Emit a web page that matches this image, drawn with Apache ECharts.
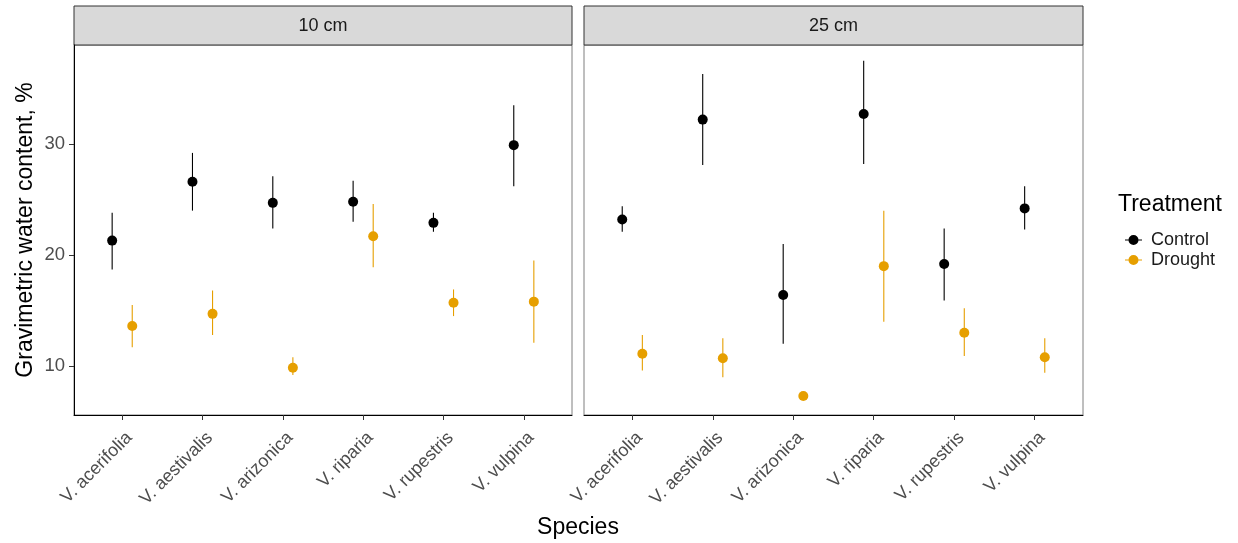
<!DOCTYPE html>
<html>
<head>
<meta charset="utf-8">
<script src="https://cdn.jsdelivr.net/npm/echarts@6/dist/echarts.min.js"></script>
<style>html,body{margin:0;padding:0;background:#fff;}#c{width:1238px;height:543px;}</style>
</head>
<body>
<div id="c"></div>
<script>
const species = ['V. acerifolia','V. aestivalis','V. arizonica','V. riparia','V. rupestris','V. vulpina'];
const panels = ['10 cm','25 cm'];
const treatments = ['Control','Drought'];
const yTicks = [10,20,30];

const ctrl10Mean = [21.3, 26.6, 24.7, 24.8, 22.9, 29.9];
const ctrl10Lo   = [18.7, 24.0, 22.4, 23.0, 22.1, 26.2];
const ctrl10Hi   = [23.8, 29.2, 27.1, 26.7, 23.8, 33.5];
const drt10Mean  = [13.6, 14.7, 9.85, 21.7, 15.7, 15.8];
const drt10Lo    = [11.7, 12.8, 9.2, 18.9, 14.5, 12.1];
const drt10Hi    = [15.5, 16.8, 10.8, 24.6, 16.9, 19.5];
const ctrl25Mean = [23.2, 32.2, 16.4, 32.7, 19.2, 24.2];
const ctrl25Lo   = [22.1, 28.1, 12.0, 28.2, 15.9, 22.3];
const ctrl25Hi   = [24.4, 36.3, 21.0, 37.5, 22.4, 26.2];
const drt25Mean  = [11.1, 10.7, 7.3, 19.0, 13.0, 10.8];
const drt25Lo    = [9.6, 9.0, 7.1, 14.0, 10.9, 9.4];
const drt25Hi    = [12.8, 12.5, 7.5, 24.0, 15.2, 12.5];

const colors = {Control:'#000000', Drought:'#E69F00'};
const dodge = {Control:-0.125, Drought:0.125};
const dataSets = [
  {panel:0, t:'Control', mean:ctrl10Mean, lo:ctrl10Lo, hi:ctrl10Hi},
  {panel:0, t:'Drought', mean:drt10Mean, lo:drt10Lo, hi:drt10Hi},
  {panel:1, t:'Control', mean:ctrl25Mean, lo:ctrl25Lo, hi:ctrl25Hi},
  {panel:1, t:'Drought', mean:drt25Mean, lo:drt25Lo, hi:drt25Hi}
];

const FONT = 'Liberation Sans, Arial, sans-serif';
const catTicks = species.map((s,k)=>k+1);
const labelShift = 0.09;
const grids = [
  {left:74, top:45, width:498, height:370, show:true, borderColor:'#7f7f7f', borderWidth:1},
  {left:584, top:45, width:499, height:370, show:true, borderColor:'#7f7f7f', borderWidth:1}
];
const xAxes = grids.map((g,i)=>({
  type:'value', gridIndex:i, min:0.4, max:6.6,
  splitLine:{show:false},
  axisLine:{show:true, lineStyle:{color:'#000', width:1}},
  axisTick:{show:true, length:5, lineStyle:{color:'#333', width:1}, customValues:catTicks},
  axisLabel:{show:true, rotate:45, color:'#4D4D4D', fontSize:18, fontFamily:FONT, margin:20,
    customValues:catTicks.map(v=>v+labelShift), formatter:v=>species[Math.round(v)-1] || ''}
}));
const yAxes = grids.map((g,i)=>({
  type:'value', gridIndex:i, min:5.59, max:38.92,
  splitLine:{show:false},
  axisLine:{show:i===0, lineStyle:{color:'#000', width:1}},
  axisTick:{show:i===0, length:5, lineStyle:{color:'#333', width:1}, customValues:yTicks},
  axisLabel:{show:i===0, color:'#4D4D4D', fontSize:18.5, fontFamily:FONT, margin:9, customValues:yTicks},
  name: i===0 ? 'Gravimetric water content, %' : '',
  nameLocation:'middle', nameGap:37,
  nameTextStyle:{color:'#000', fontSize:23, fontFamily:FONT}
}));

const series = [];
dataSets.forEach(ds=>{
  const off = dodge[ds.t];
  series.push({
    type:'custom', name:ds.t, xAxisIndex:ds.panel, yAxisIndex:ds.panel,
    data: species.map((s,k)=>[k+1+off, ds.lo[k], ds.hi[k]]),
    encode:{x:0, y:[1,2]},
    silent:true,
    itemStyle:{color:colors[ds.t]},
    renderItem:(params, api)=>{
      const p1 = api.coord([api.value(0), api.value(1)]);
      const p2 = api.coord([api.value(0), api.value(2)]);
      return {type:'line', shape:{x1:p1[0], y1:p1[1], x2:p2[0], y2:p2[1]},
        style:{stroke:colors[ds.t], lineWidth:1.1}};
    },
    z:2
  });
  series.push({
    type:'scatter', name:ds.t, xAxisIndex:ds.panel, yAxisIndex:ds.panel,
    data: species.map((s,k)=>[k+1+off, ds.mean[k]]),
    symbol:'circle', symbolSize:10,
    itemStyle:{color:colors[ds.t], opacity:1},
    z:3
  });
});

const graphics = [];
grids.forEach((g,i)=>{
  graphics.push({type:'rect', shape:{x:g.left, y:6, width:g.width, height:39},
    style:{fill:'#D9D9D9', stroke:'#333', lineWidth:1}});
  graphics.push({type:'text', x:g.left+g.width/2, y:26,
    style:{text:panels[i], fill:'#1A1A1A', font:'18px '+FONT, textAlign:'center', textVerticalAlign:'middle'}});
});
graphics.push({type:'text', x:578, y:528,
  style:{text:'Species', fill:'#000', font:'23px '+FONT, textAlign:'center', textVerticalAlign:'middle'}});
graphics.push({type:'text', x:1118, y:205,
  style:{text:'Treatment', fill:'#000', font:'23px '+FONT, textAlign:'left', textVerticalAlign:'middle'}});

const legendIcon = 'path://M0,4.4 L17,4.4 L17,5.6 L0,5.6 Z M8.5,0 A5,5 0 1 1 8.49,0 Z';
const chart = echarts.init(document.getElementById('c'), null, {renderer:'canvas'});
chart.setOption({
  animation:false,
  backgroundColor:'#fff',
  grid:grids, xAxis:xAxes, yAxis:yAxes, series:series,
  legend:{
    data:treatments.map(t=>({name:t, icon:legendIcon, itemStyle:{color:colors[t]}})),
    orient:'vertical', left:1120, top:226, itemWidth:17, itemHeight:10, itemGap:2,
    textStyle:{color:'#1A1A1A', fontSize:18, fontFamily:FONT, padding:[0,0,0,4]},
    selectedMode:false
  },
  graphic:graphics
});
</script>
</body>
</html>
